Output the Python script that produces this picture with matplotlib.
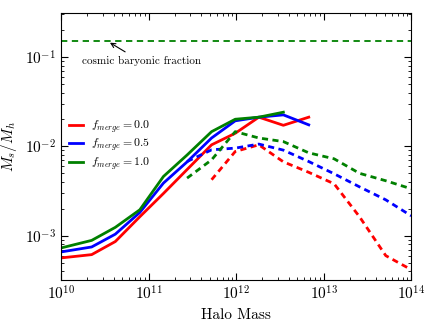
import numpy as np
import matplotlib
matplotlib.use("Agg")
import matplotlib.pyplot as plt

plt.rcParams['font.family'] = ['cmr10', 'DejaVu Serif']
plt.rcParams['mathtext.fontset'] = 'cm'
plt.rcParams['axes.formatter.use_mathtext'] = True

# Halo masses (log10) for each model point
logm_solid = [10.0, 10.35, 10.62, 10.90, 11.17, 11.44, 11.72, 11.99, 12.26, 12.54, 12.83]
logm_dash = [11.44, 11.72, 11.99, 12.26, 12.54, 12.83, 13.12, 13.41, 13.71, 14.0]

# Solid lines (central galaxies)
solid_f00 = [5.64e-4, 6.14e-4, 8.6e-4, 1.63e-3, 2.97e-3, 5.5e-3, 1.04e-2, 1.40e-2, 2.12e-2, 1.72e-2, 2.12e-2]
solid_f05 = [6.58e-4, 7.48e-4, 1.04e-3, 1.82e-3, 3.88e-3, 6.7e-3, 1.24e-2, 1.93e-2, 2.12e-2, 2.25e-2, 1.74e-2]
solid_f10 = [7.29e-4, 8.86e-4, 1.24e-3, 1.95e-3, 4.6e-3, 8.0e-3, 1.46e-2, 2.01e-2, 2.12e-2, 2.41e-2]

# Dashed lines
dash_f00 = [None, 4.23e-3, 8.75e-3, 1.04e-2, 6.71e-3, 5.12e-3, 3.81e-3, 1.63e-3, 5.98e-4, 4.17e-4]
dash_f05 = [6.76e-3, 9.14e-3, 9.55e-3, 1.06e-2, 9.07e-3, 6.76e-3, 4.93e-3, 3.52e-3, 2.52e-3, 1.67e-3]
dash_f10 = [4.41e-3, 7.06e-3, 1.46e-2, 1.24e-2, 1.13e-2, 8.46e-3, 7.25e-3, 4.99e-3, 4.12e-3, 3.35e-3]

baryon_fraction = 0.15
labels = ['$f_{merge} = 0.0$', '$f_{merge} = 0.5$', '$f_{merge} = 1.0$']
colors = ['red', 'blue', 'green']

fig = plt.figure(figsize=(4.36, 3.27), dpi=100)
ax = fig.add_axes([0.14, 0.144, 0.803, 0.816])

def xs(logs):
    return [10 ** v for v in logs]

for ys, c, lab in zip([solid_f00, solid_f05, solid_f10], colors, labels):
    ax.plot(xs(logm_solid[:len(ys)]), ys, '-', color=c, lw=2, label=lab)

for ys, c in zip([dash_f00, dash_f05, dash_f10], colors):
    pts = [(10 ** m, v) for m, v in zip(logm_dash, ys) if v is not None]
    ax.plot([p[0] for p in pts], [p[1] for p in pts], '--', color=c, lw=2, dashes=(2.2, 1.6))

ax.axhline(baryon_fraction, color='green', ls='--', lw=1.3, dashes=(3.5, 2.5))

ax.annotate('cosmic baryonic fraction', xy=(3.4e10, baryon_fraction), xytext=(1.74e10, 0.09),
            ha='left', va='center', fontsize=8,
            arrowprops=dict(arrowstyle='->', color='black', lw=0.8, relpos=(0.42, 1.0)))

ax.set_xscale('log')
ax.set_yscale('log')
ax.set_xlim(1e10, 1e14)
ax.set_ylim(3.2e-4, 0.31)
ax.set_xlabel('Halo Mass', fontsize=11)
ax.set_ylabel('$M_s/M_h$', fontsize=11)
ax.tick_params(which='both', direction='in', top=True, right=True, labelsize=11)
ax.tick_params(which='major', length=5)
ax.tick_params(which='minor', length=2.5)

ax.legend(loc='center left', bbox_to_anchor=(0.0, 0.505), frameon=False, fontsize=8.5,
          handlelength=1.2, handletextpad=0.6, labelspacing=0.15, borderaxespad=0.3)

fig.savefig('out.png', dpi=100)
